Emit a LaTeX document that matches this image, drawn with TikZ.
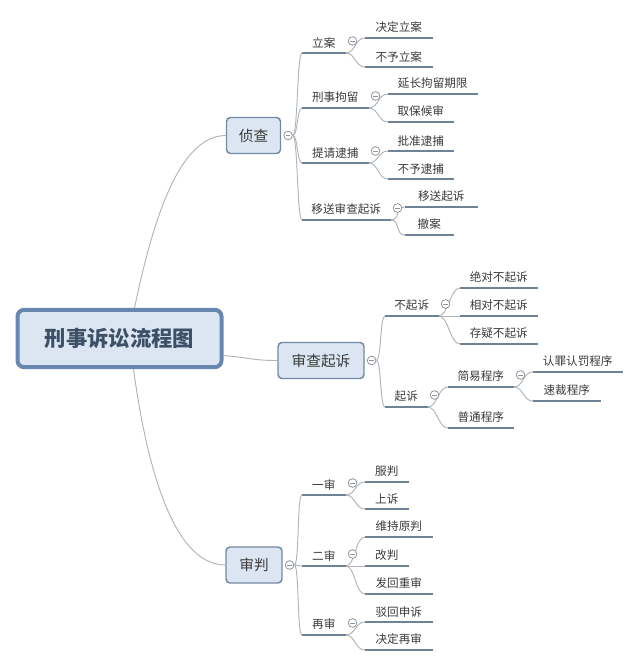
\documentclass[tikz,border=0pt]{standalone}
\usepackage{fontspec}
\setmainfont{Noto Sans CJK SC}
\usetikzlibrary{positioning, calc}
\definecolor{cfill}{HTML}{DCE6F2}
\definecolor{cedge}{HTML}{6787B0}
\definecolor{cbox}{HTML}{7489A3}
\definecolor{cdark}{HTML}{3D5068}
\definecolor{cline}{HTML}{6F8396}
\definecolor{clink}{HTML}{AEB4BA}
\definecolor{cfold}{HTML}{8E959C}
\definecolor{ctext}{HTML}{3A3A3A}
\tikzset{
  rootbox/.style={draw=cedge, fill=cfill, line width=3pt, rounded corners=5pt, minimum width=153pt, minimum height=43pt, text=cdark, font=\fontsize{16}{18}\selectfont\bfseries},
  topic/.style={draw=cbox, fill=cfill, line width=1.1pt, rounded corners=3pt, minimum width=#1*0.75pt, minimum height=27pt, inner sep=0pt, text=ctext, font=\fontsize{11}{13}\selectfont},
  sub/.style={anchor=south west, minimum width=#1*0.75pt, inner xsep=0pt, inner ysep=3.6pt, text=ctext, font=\fontsize{8.7}{10}\selectfont},
  uline/.style={draw=cline, line width=1.6pt},
  link/.style={draw=clink, line width=0.7pt},
  fold/.style={circle, draw=cfold, fill=white, line width=0.6pt, minimum size=6.5pt, inner sep=0pt,
    path picture={\draw[cfold, line width=0.6pt] ([xshift=-1.7pt]path picture bounding box.center) -- ([xshift=1.7pt]path picture bounding box.center);}},
}

\begin{document}
\begin{tikzpicture}[x=0.75pt, y=-0.75pt]
  \useasboundingbox (0,0) rectangle (640,664);
  % root and main topics
  \node[rootbox] (root) at (119.5,338.5) {刑事诉讼流程图};
  \node[topic=54] (zc) at (253.5,135.5) {侦查};
  \node[topic=86] (scqs) at (321,360.5) {审查起诉};
  \node[topic=56] (sp) at (254,565) {审判};
  \foreach \n in {zc,scqs,sp} \node[fold, right=1.6pt of \n] (\n-f) {};
  \draw[link] ($(root.north)+(15,0)$) .. controls +(15,-70) and +(-51,0) .. (zc.west);
  \draw[link] ($(root.east)+(0,17)$) .. controls +(25,2) and +(-25,0) .. (scqs.west);
  \draw[link] ($(root.south)+(14,0)$) .. controls +(11,81) and +(-56,0) .. (sp.west);
  % 侦查
  \node[sub=43] (la) at (302,53) {立案};
  \node[sub=66] (xsjl) at (302,108) {刑事拘留};
  \node[sub=66] (tqdb) at (302,163) {提请逮捕};
  \node[sub=88] (ysscqs) at (302,220) {移送审查起诉};
  \node[sub=67] (jdla) at (365,38) {决定立案};
  \node[sub=67] (byla) at (365,67) {不予立案};
  \node[sub=89] (ycjl) at (388,94) {延长拘留期限};
  \node[sub=65] (qbhs) at (388,122) {取保候审};
  \node[sub=65] (pzdb) at (388,151) {批准逮捕};
  \node[sub=65] (bydb) at (388,179) {不予逮捕};
  \node[sub=72] (ysqs) at (405,207) {移送起诉};
  \node[sub=48] (ca) at (405,235) {撤案};
  % 审查起诉
  \node[sub=53] (bqs) at (385,316) {不起诉};
  \node[sub=42] (qs) at (385,407) {起诉};
  \node[sub=77] (jdbqs) at (460,288) {绝对不起诉};
  \node[sub=77] (xdbqs) at (460,316) {相对不起诉};
  \node[sub=77] (cybqs) at (460,344) {存疑不起诉};
  \node[sub=65] (jycx) at (448,387) {简易程序};
  \node[sub=65] (ptcx) at (448,428) {普通程序};
  \node[sub=89] (rzrf) at (533,372) {认罪认罚程序};
  \node[sub=67] (sccx) at (533,401) {速裁程序};
  % 审判
  \node[sub=43] (ys) at (302,495) {一审};
  \node[sub=43] (es) at (302,566) {二审};
  \node[sub=43] (zs) at (302,635) {再审};
  \node[sub=43] (fp) at (365,482) {服判};
  \node[sub=43] (ss) at (365,509) {上诉};
  \node[sub=67] (wcyp) at (365,537) {维持原判};
  \node[sub=43] (gp) at (365,566) {改判};
  \node[sub=67] (fhcs) at (365,594) {发回重审};
  \node[sub=67] (bhss) at (365,622) {驳回申诉};
  \node[sub=67] (jdzs) at (365,650) {决定再审};
  % connectors
  \foreach \a/\b in {zc-f/la, zc-f/xsjl, zc-f/tqdb, zc-f/ysscqs, scqs-f/bqs, scqs-f/qs, sp-f/ys, sp-f/es, sp-f/zs}
    \draw[link] (\a.east) .. controls +(5,0) and +(-5,0) .. (\b.south west);
  \foreach \a/\b in {la/jdla, la/byla, xsjl/ycjl, xsjl/qbhs, tqdb/pzdb, tqdb/bydb, ysscqs/ysqs, ysscqs/ca,
      bqs/jdbqs, bqs/xdbqs, bqs/cybqs, qs/jycx, qs/ptcx, jycx/rzrf, jycx/sccx,
      ys/fp, ys/ss, es/wcyp, es/gp, es/fhcs, zs/bhss, zs/jdzs}
    \draw[link] (\a.south east) .. controls +(10,0) and +(-10,0) .. (\b.south west);
  \foreach \n in {la,xsjl,tqdb,ysscqs,jdla,byla,ycjl,qbhs,pzdb,bydb,ysqs,ca,bqs,qs,jdbqs,xdbqs,cybqs,jycx,ptcx,rzrf,sccx,ys,es,zs,fp,ss,wcyp,gp,fhcs,bhss,jdzs}
    \draw[uline] (\n.south west) -- (\n.south east);
  \foreach \n in {la,xsjl,tqdb,ysscqs,bqs,qs,jycx,ys,es,zs} \node[fold] (\n-f) at ([shift={(7,-12)}]\n.south east) {};
\end{tikzpicture}
\end{document}
